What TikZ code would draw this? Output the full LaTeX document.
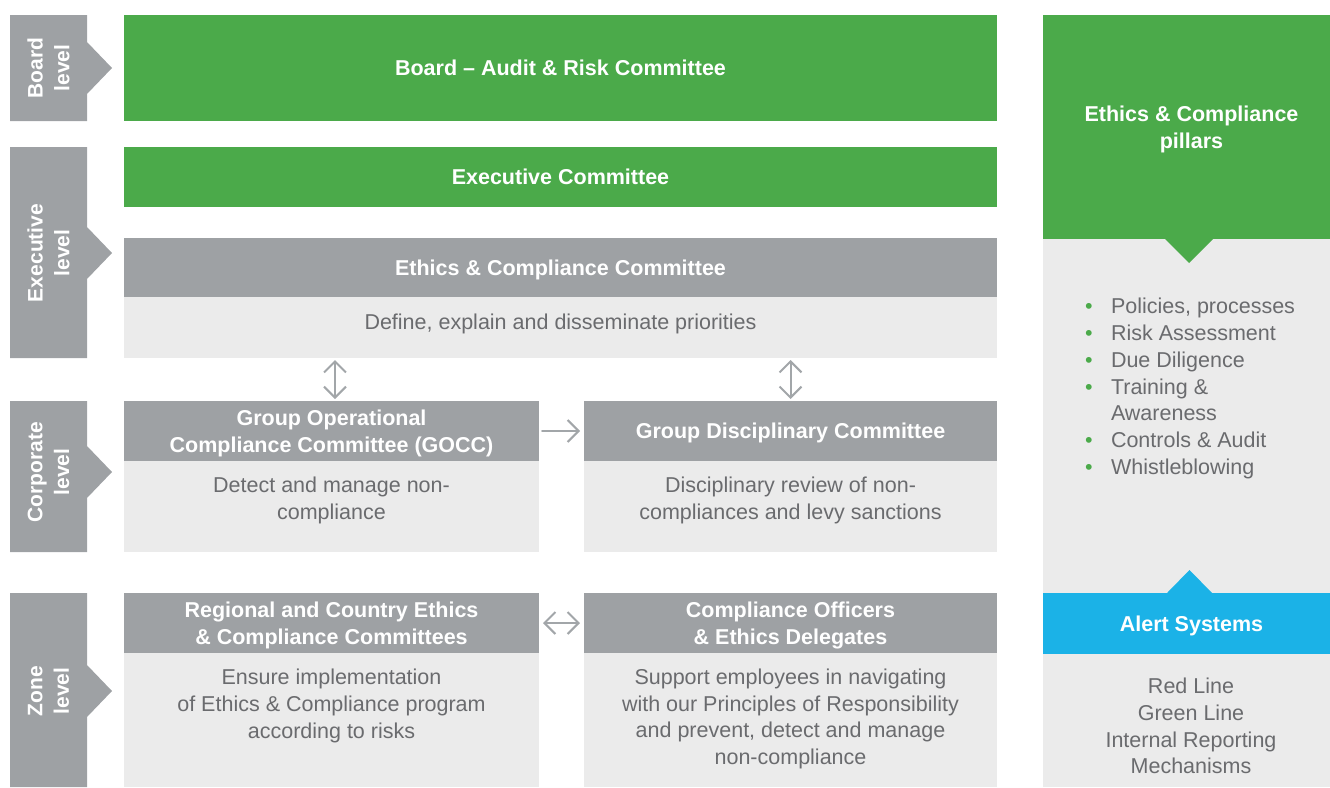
\documentclass[tikz,border=0pt]{standalone}
\usepackage{fontspec}
\setmainfont{Liberation Sans}
\usepackage{tikz}
\usetikzlibrary{arrows.meta}

\definecolor{ecgreen}{HTML}{4BAA4A}
\definecolor{ecgray}{HTML}{9EA1A4}
\definecolor{eclight}{HTML}{EBEBEB}
\definecolor{ecblue}{HTML}{1BB2E7}
\definecolor{ectext}{HTML}{6A6B6E}
\definecolor{ecarrow}{HTML}{A2A6A9}

\newcommand{\pillarbullet}{\makebox[26pt][l]{\textcolor{ecgreen}{•}}}

\begin{document}
\begin{tikzpicture}[
			x=1pt, y=-1pt,
			every node/.style={inner sep=0pt, outer sep=0pt, font=\fontsize{21.5}{26.7}\selectfont},
			line cap=round,
			line join=round,
			>={Straight Barb[length=11pt,width=22pt]},
			headbox/.style={fill=#1, text=white, font=\fontsize{21.5}{26.7}\selectfont\bfseries, align=center, text depth=0pt, anchor=north west},
			bodybox/.style={fill=eclight, anchor=north west},
			bodytext/.style={text=ectext, align=center},
			tabtext/.style={text=white, font=\fontsize{21}{26.7}\selectfont\bfseries, align=center, rotate=90},
			link/.style={draw=ecarrow, line width=2pt}
			]
			\useasboundingbox (0,0) rectangle (1330,787);
			
			% level tabs
			\foreach \name/\top/\bot/\tip/\word in {board/15/121/68/Board, exec/147/358/253/Executive, corp/401/552/472/Corporate, zone/593/787/691/Zone} {
				\fill[ecgray] (10,\top) -- (87,\top) -- (87,\tip-26) -- (112,\tip) -- (87,\tip+26) -- (87,\bot) -- (10,\bot) -- cycle;
				\node[tabtext] (\name-tab) at (48.5,\tip) {\word\\level};
			}
			
			% board and executive
			\node[headbox=ecgreen, minimum width=873pt, minimum height=106pt] (board) at (124,15) {Board – Audit \& Risk Committee};
			\node[headbox=ecgreen, minimum width=873pt, minimum height=60pt] (exco) at (124,147) {Executive Committee};
			\node[headbox=ecgray, minimum width=873pt, minimum height=59pt] (ecc) at (124,238) {Ethics \& Compliance Committee};
			\node[bodybox, minimum width=873pt, minimum height=61pt] (ecc body) at (124,297) {};
			\node[bodytext] (ecc text) at (560.5,324) {Define, explain and disseminate priorities};
			
			% corporate
			\node[headbox=ecgray, minimum width=415pt, minimum height=60pt] (gocc) at (124,401) {Group Operational\\Compliance Committee (GOCC)};
			\node[bodybox, minimum width=415pt, minimum height=91pt] (gocc body) at (124,461) {};
			\node[bodytext] (gocc text) at (331.5,500.5) {Detect and manage non-\\compliance};
			
			\node[headbox=ecgray, minimum width=413pt, minimum height=60pt] (gdc) at (584,401) {Group Disciplinary Committee};
			\node[bodybox, minimum width=413pt, minimum height=91pt] (gdc body) at (584,461) {};
			\node[bodytext] (gdc text) at (790.5,500.5) {Disciplinary review of non-\\compliances and levy sanctions};
			
			% zone
			\node[headbox=ecgray, minimum width=415pt, minimum height=60pt] (rcec) at (124,593) {Regional and Country Ethics\\\& Compliance Committees};
			\node[bodybox, minimum width=415pt, minimum height=134pt] (rcec body) at (124,653) {};
			\node[bodytext] (rcec text) at (331.5,706) {Ensure implementation\\of Ethics \& Compliance program\\according to risks};
			
			\node[headbox=ecgray, minimum width=413pt, minimum height=60pt] (coed) at (584,593) {Compliance Officers\\\& Ethics Delegates};
			\node[bodybox, minimum width=413pt, minimum height=134pt] (coed body) at (584,653) {};
			\node[bodytext] (coed text) at (790.5,719) {Support employees in navigating\\with our Principles of Responsibility\\and prevent, detect and manage\\non-compliance};
			
			% connectors
			\draw[link, <->, shorten <=2pt, shorten >=2pt] ([xshift=3.5pt]gocc.north |- ecc body.south) -- ([xshift=3.5pt]gocc.north);
			\draw[link, <->, shorten <=2pt, shorten >=2pt] (gdc.north |- ecc body.south) -- (gdc.north);
			\draw[link, ->, shorten <=3pt, shorten >=4pt] (gocc.east) -- (gdc.west);
			\draw[link, <->, shorten <=4pt, shorten >=4pt] (rcec.east) -- (coed.west);
			
			% pillars column
			\node[bodybox, minimum width=297pt, minimum height=548pt] (pillars body) at (1043,239) {};
			\node[headbox=ecgreen, minimum width=297pt, minimum height=224pt] (pillars) at (1043,15) {Ethics \& Compliance\\pillars};
			\fill[ecgreen] (1165,239) -- (1189,263) -- (1213,239) -- cycle;
			\node[text=ectext, align=left, anchor=west] (pillars list) at (1085,388.5) {\pillarbullet Policies, processes\\
				\pillarbullet Risk Assessment\\
				\pillarbullet Due Diligence\\
				\pillarbullet Training \&\\
				\hspace*{26pt}Awareness\\
				\pillarbullet Controls \& Audit\\
				\pillarbullet Whistleblowing};
			
			\fill[ecblue] (1167,593) -- (1189.5,570) -- (1212,593) -- cycle;
			\node[headbox=ecblue, minimum width=297pt, minimum height=61pt] (alerts) at (1043,593) {Alert Systems};
			\node[bodytext] (alerts text) at (1191,726) {Red Line\\Green Line\\Internal Reporting\\Mechanisms};
		\end{tikzpicture}
\end{document}
